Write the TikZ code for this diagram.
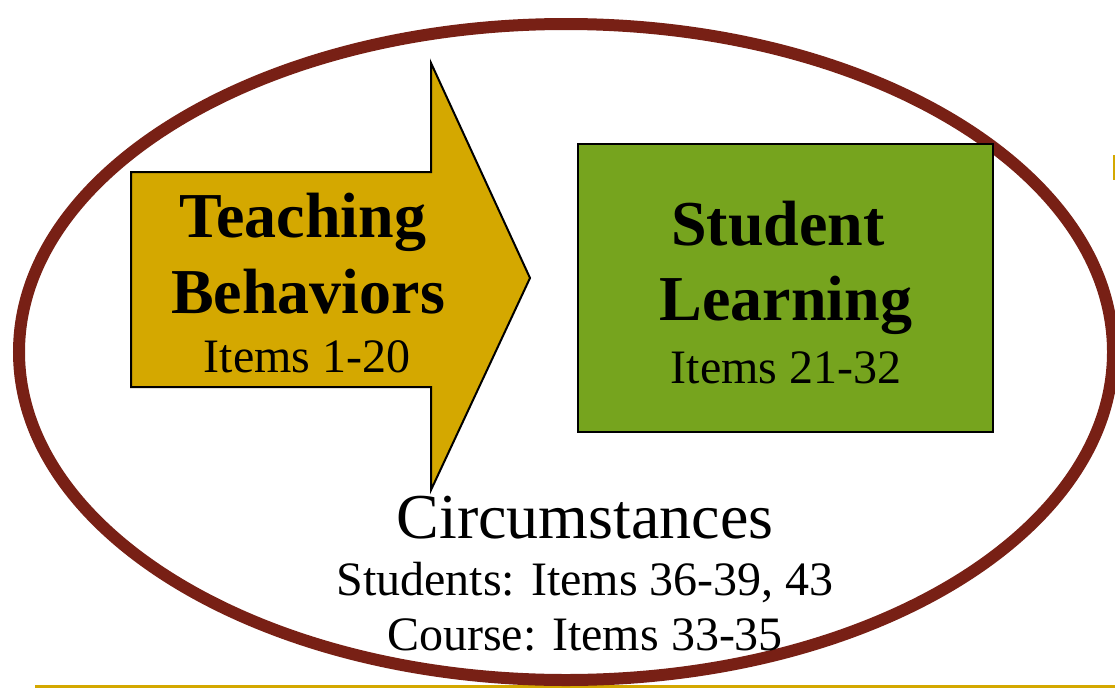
\documentclass[tikz,border=0pt]{standalone}
\usepackage{fontspec}
\setmainfont{Liberation Serif}
\definecolor{ellred}{HTML}{782015}
\definecolor{gold}{HTML}{D4A800}
\definecolor{leaf}{HTML}{76A41E}
\tikzset{
  big/.style={font=\fontsize{64}{76}\selectfont\bfseries, inner sep=0pt, anchor=base},
  plain/.style={font=\fontsize{64}{76}\selectfont, inner sep=0pt, anchor=base},
  small/.style={font=\fontsize{48}{58}\selectfont, inner sep=0pt, anchor=base},
  shapeline/.style={draw=black, line width=2pt, line join=miter},
}
\begin{document}
\begin{tikzpicture}[x=1pt,y=-1pt]
\useasboundingbox (0,0) rectangle (1115,688);
% bottom rule and small mark
\draw[gold, line width=2.5pt] (35,686.5) -- (1115,686.5);
\draw[gold, line width=2pt] (1114,155) -- (1114,180);
% ellipse
\draw[ellred, line width=12pt] (566,352) ellipse [x radius=547, y radius=328];
% arrow
\draw[shapeline, fill=gold] (131,172) -- (431,172) -- (431,63) -- (530,278) -- (431,490) -- (431,387) -- (131,387) -- cycle;
% green box
\draw[shapeline, fill=leaf] (578,144) rectangle (993,432);
% texts
\node[big] (teach) at (303,237) {Teaching};
\node[big] (behav) at (308,313) {Behaviors};
\node[small] (it1) at (307,372) {Items 1-20};
\node[big] (stud) at (778,245) {Student};
\node[big] (learn) at (786,320) {Learning};
\node[small] (it2) at (786,383) {Items 21-32};
\node[plain] (circ) at (585,538) {Circumstances};
\node[small] (studs) at (585,595) {Students: Items 36-39, 43};
\node[small] (course) at (585,650) {Course: Items 33-35};
\end{tikzpicture}
\end{document}
